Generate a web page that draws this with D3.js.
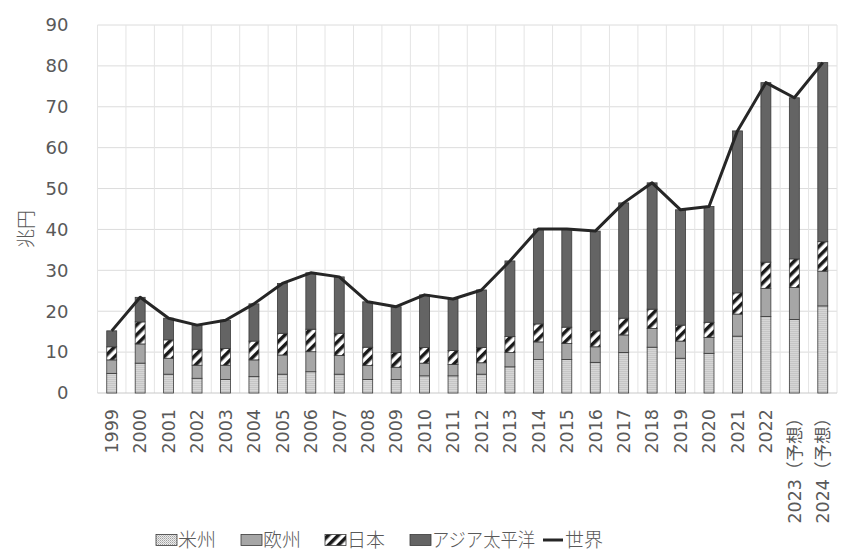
<!DOCTYPE html>
<html>
<head>
<meta charset="utf-8">
<script src="https://cdn.jsdelivr.net/npm/d3@7"></script>
<style>
body { margin: 0; background: #fff; }
text { font-family: "DejaVu Sans", "Noto Sans CJK JP", sans-serif; fill: #595959; }
</style>
</head>
<body>
<div id="chartDiv"></div>
<script>
var width = 845;
var height = 552;
var margin = { top: 25, right: 8, bottom: 159, left: 97.5 };

// data (兆円)
var years = ["1999", "2000", "2001", "2002", "2003", "2004", "2005", "2006", "2007", "2008",
    "2009", "2010", "2011", "2012", "2013", "2014", "2015", "2016", "2017", "2018",
    "2019", "2020", "2021", "2022", "2023（予想）", "2024（予想）"];
var america = [4.8, 7.3, 4.6, 3.6, 3.3, 4.0, 4.6, 5.2, 4.6, 3.3, 3.3, 4.2, 4.2, 4.6, 6.4, 8.2, 8.2, 7.5, 9.9, 11.2, 8.5, 9.7, 13.9, 18.7, 18.0, 21.3];
var europe = [3.3, 4.7, 3.9, 3.2, 3.5, 4.1, 4.7, 4.9, 4.6, 3.4, 3.0, 3.1, 2.8, 2.8, 3.5, 4.3, 3.9, 3.8, 4.3, 4.6, 4.2, 3.9, 5.4, 6.9, 7.8, 8.5];
var japan = [3.2, 5.4, 4.5, 3.9, 4.1, 4.6, 5.3, 5.5, 5.4, 4.5, 3.6, 3.8, 3.4, 3.7, 3.9, 4.4, 4.0, 3.9, 4.1, 4.7, 3.9, 3.7, 5.2, 6.4, 7.0, 7.2];
var asia = [3.9, 6.0, 5.3, 5.9, 6.9, 9.1, 12.2, 13.8, 13.8, 11.1, 11.2, 12.9, 12.6, 14.1, 18.5, 23.2, 24.0, 24.4, 28.2, 30.9, 28.2, 28.3, 39.6, 43.9, 39.4, 43.8];
var world = [15.2, 23.4, 18.3, 16.6, 17.8, 21.8, 26.8, 29.4, 28.4, 22.3, 21.1, 24.0, 23.0, 25.2, 32.3, 40.1, 40.1, 39.6, 46.5, 51.4, 44.8, 45.6, 64.1, 75.9, 72.2, 80.8];
var seriesNames = ["米州", "欧州", "日本", "アジア太平洋"];
var worldName = "世界";
var yTicks = [0, 10, 20, 30, 40, 50, 60, 70, 80, 90];
var yAxisLabelHeader = "兆円";

var chartWidth = width - margin.left - margin.right;
var chartHeight = height - margin.top - margin.bottom;

var fills = ["url(#patAmerica)", "#a6a6a6", "url(#patJapan)", "#646464"];

var x = d3.scaleBand().domain(years).range([0, chartWidth]).paddingInner(0.65).paddingOuter(0.325);
var xc = d3.scaleBand().domain(years).range([0, chartWidth]);
var y = d3.scaleLinear().domain([0, 90]).range([chartHeight, 0]);

var chart = d3.select("#chartDiv").append("svg")
    .attr("width", width)
    .attr("height", height);

// patterns
var defs = chart.append("defs");
var pa = defs.append("pattern").attr("id", "patAmerica")
    .attr("patternUnits", "userSpaceOnUse").attr("width", 2).attr("height", 2);
pa.append("rect").attr("width", 2).attr("height", 2).attr("fill", "#ececec");
pa.append("rect").attr("width", 1).attr("height", 1).attr("fill", "#a0a0a0");
pa.append("rect").attr("x", 1).attr("y", 1).attr("width", 1).attr("height", 1).attr("fill", "#c0c0c0");

var pj = defs.append("pattern").attr("id", "patJapan")
    .attr("patternUnits", "userSpaceOnUse").attr("width", 7).attr("height", 7)
    .attr("patternTransform", "rotate(45)");
pj.append("rect").attr("width", 7).attr("height", 7).attr("fill", "#fff");
pj.append("rect").attr("width", 3.5).attr("height", 7).attr("fill", "#1a1a1a");

var plot = chart.append("g")
    .attr("transform", "translate(" + margin.left + "," + margin.top + ")");

// gridlines
plot.selectAll(".hgrid").data(yTicks.slice(1)).enter().append("line")
    .attr("x1", 0).attr("x2", chartWidth)
    .attr("y1", function(d) { return y(d); }).attr("y2", function(d) { return y(d); })
    .attr("stroke", "#dcdcdc").attr("stroke-width", 1);

var bounds = years.map(function(d) { return xc(d); }).concat([chartWidth]);
plot.selectAll(".vgrid").data(bounds).enter().append("line")
    .attr("x1", function(d) { return d; }).attr("x2", function(d) { return d; })
    .attr("y1", 0).attr("y2", chartHeight)
    .attr("stroke", "#e4e4e4").attr("stroke-width", 1);

plot.append("line")
    .attr("x1", 0).attr("x2", chartWidth)
    .attr("y1", chartHeight).attr("y2", chartHeight)
    .attr("stroke", "#c8c8c8").attr("stroke-width", 1);

// stacked bars
var rows = years.map(function(d, i) {
    return { year: d, a: america[i], e: europe[i], j: japan[i], p: asia[i] };
});
var stack = d3.stack().keys(["a", "e", "j", "p"]);
var layers = stack(rows);

plot.selectAll(".layer").data(layers).enter().append("g")
    .attr("fill", function(d, i) { return fills[i]; })
    .selectAll("rect").data(function(d) { return d; }).enter().append("rect")
    .attr("x", function(d) { return x(d.data.year); })
    .attr("width", x.bandwidth())
    .attr("y", function(d) { return y(d[1]); })
    .attr("height", function(d) { return y(d[0]) - y(d[1]); })
    .attr("stroke", "#3a3a3a")
    .attr("stroke-width", 0.8);

// world line
var line = d3.line()
    .x(function(d, i) { return xc(years[i]) + xc.bandwidth() / 2; })
    .y(function(d) { return y(d); });

plot.append("path")
    .datum(world)
    .attr("d", line)
    .attr("fill", "none")
    .attr("stroke", "#262626")
    .attr("stroke-width", 3)
    .attr("stroke-linejoin", "round");

// y axis labels
plot.selectAll(".ytick").data(yTicks).enter().append("text")
    .attr("x", -29)
    .attr("y", function(d) { return y(d); })
    .attr("dy", "0.35em")
    .attr("text-anchor", "end")
    .style("font-size", "18px")
    .text(function(d) { return d; });

// x axis labels
plot.selectAll(".xtick").data(years).enter().append("text")
    .attr("text-anchor", "end")
    .attr("dy", "0.36em")
    .attr("transform", function(d) {
        return "translate(" + (xc(d) + xc.bandwidth() / 2) + "," + (chartHeight + 16) + ") rotate(-90)";
    })
    .style("font-size", "17.5px")
    .text(function(d) { return d; });

// y axis header
chart.append("text")
    .attr("text-anchor", "middle")
    .attr("transform", "translate(26," + (margin.top + chartHeight / 2 + 20) + ") rotate(-90)")
    .attr("dy", "0.35em")
    .style("font-size", "19px")
    .style("font-family", "'Noto Sans CJK JP', sans-serif")
    .style("font-weight", 300)
    .text(yAxisLabelHeader);

// legend
var legendX = [156, 241, 325, 410];
var legendY = 540;
var legend = chart.append("g");
seriesNames.forEach(function(name, i) {
    legend.append("rect")
        .attr("x", legendX[i]).attr("y", legendY - 5.5)
        .attr("width", 21).attr("height", 11)
        .attr("fill", fills[i])
        .attr("stroke", "#3a3a3a").attr("stroke-width", 0.8);
    var t = legend.append("text")
        .attr("x", legendX[i] + 22).attr("y", legendY)
        .attr("dy", "0.35em")
        .style("font-size", "19px")
        .style("font-weight", 300)
        .style("font-family", "'Noto Sans CJK JP', sans-serif")
        .text(name);
    if (name.length > 4) {
        t.attr("textLength", 103).attr("lengthAdjust", "spacingAndGlyphs");
    }
});
legend.append("line")
    .attr("x1", 543).attr("x2", 563)
    .attr("y1", legendY).attr("y2", legendY)
    .attr("stroke", "#262626").attr("stroke-width", 3);
legend.append("text")
    .attr("x", 565).attr("y", legendY)
    .attr("dy", "0.35em")
    .style("font-size", "19px")
    .style("font-weight", 300)
    .style("font-family", "'Noto Sans CJK JP', sans-serif")
    .text(worldName);
</script>
</body>
</html>
